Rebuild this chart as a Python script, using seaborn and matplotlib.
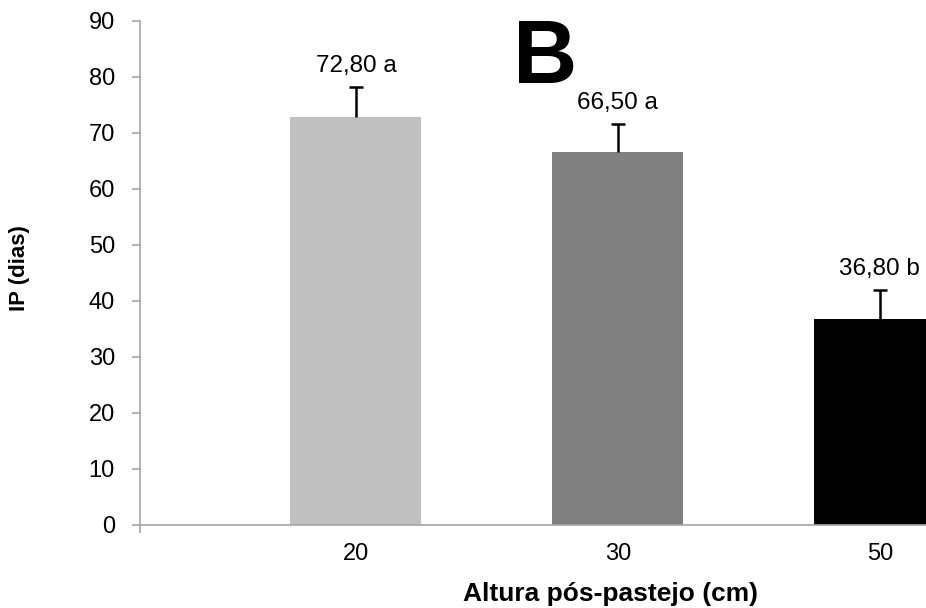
import matplotlib
matplotlib.use("Agg")
import matplotlib.pyplot as plt
import seaborn as sns
import pandas as pd

# Data
categories = ["20", "30", "50"]
values = [72.80, 66.50, 36.80]
errors = [5.4, 5.1, 5.1]
letters = ["a", "a", "b"]
colors = ["#C0C0C0", "#808080", "#000000"]
y_ticks = [0, 10, 20, 30, 40, 50, 60, 70, 80, 90]

sns.set_style("white")
plt.rcParams["font.family"] = ["Liberation Sans", "DejaVu Sans"]
plt.rcParams["text.color"] = "black"
plt.rcParams["xtick.color"] = "black"
plt.rcParams["ytick.color"] = "black"
plt.rcParams["axes.labelcolor"] = "black"

df = pd.DataFrame({"cat": categories, "val": values})

fig = plt.figure(figsize=(9.26, 6.08), dpi=100)
ax = fig.add_axes([140 / 926, 83.3 / 608, 786 / 926, 504 / 608])

sns.barplot(data=df, x="cat", y="val", hue="cat", palette=colors, order=categories,
            hue_order=categories, width=0.5, legend=False, ax=ax, errorbar=None,
            saturation=1, linewidth=0)

xs = list(range(len(categories)))
eb = ax.errorbar(xs, values, yerr=[[0] * len(errors), errors], fmt="none",
                 ecolor="black", elinewidth=1.8, capsize=4.8, capthick=1.8, zorder=5)
# hide lower caps (one-sided error bars)
caps = eb[1]
if len(caps) == 2:
    caps[0].set_visible(False)

for x, v, e, l in zip(xs, values, errors, letters):
    txt = f"{v:.2f}".replace(".", ",") + " " + l
    ax.annotate(txt, xy=(x, v + e), xytext=(0, 7), textcoords="offset points",
                ha="center", va="bottom", fontsize=17.5, color="black")

xl = -0.824
ax.set_xlim(xl, 2.176)
ax.set_ylim(0, 90)
ax.set_yticks(y_ticks)
ax.set_yticklabels([str(t) for t in y_ticks], fontsize=17)
ax.set_xticks(xs)
ax.set_xticklabels(categories, fontsize=17)
ax.set_xticks([xl, 1], minor=True)

spine_color = "#A6A6A6"
for s in ["top", "right"]:
    ax.spines[s].set_visible(False)
for s in ["left", "bottom"]:
    ax.spines[s].set_color(spine_color)
    ax.spines[s].set_linewidth(1.2)

ax.tick_params(axis="y", direction="out", length=6, width=1.2, color=spine_color,
               pad=12, left=True, labelcolor="black")
ax.tick_params(axis="x", which="major", length=0, pad=13, labelcolor="black")
ax.tick_params(axis="x", which="minor", direction="out", length=6, width=1.2,
               color=spine_color, bottom=True)

ax.set_xlabel("Altura pós-pastejo (cm)", fontsize=19, fontweight="bold", color="black")
ax.set_ylabel("IP (dias)", fontsize=16, fontweight="bold", color="black")
ax.xaxis.set_label_coords(0.598, -0.113)
ax.yaxis.set_label_coords(-0.14, 0.51)

fig.text(545 / 926, 1 - 60 / 608, "B", fontsize=64, fontweight="bold",
         ha="center", va="center", color="black")

fig.savefig("out.png", dpi=100)
